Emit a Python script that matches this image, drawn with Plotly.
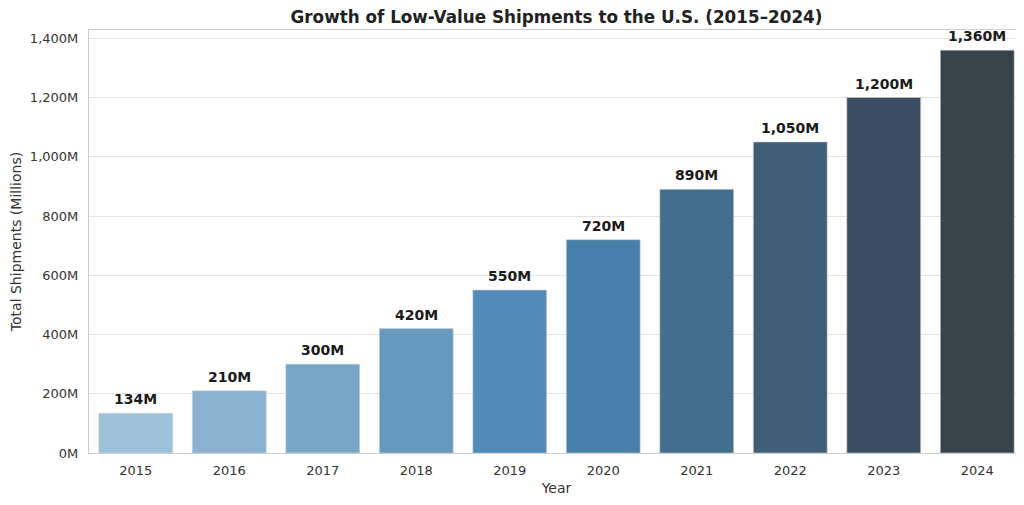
import plotly.graph_objects as go

years = ["2015", "2016", "2017", "2018", "2019", "2020", "2021", "2022", "2023", "2024"]
shipments = [134, 210, 300, 420, 550, 720, 890, 1050, 1200, 1360]
labels = ["134M", "210M", "300M", "420M", "550M", "720M", "890M", "1,050M", "1,200M", "1,360M"]
colors = ["#9dc1d9", "#8bb3cf", "#78a6c6", "#6599bf", "#518cb8", "#4680aa", "#436e8d", "#3f5e78",
          "#3b4d62", "#37434b"]
tick_vals = [0, 200, 400, 600, 800, 1000, 1200, 1400]
tick_text = ["0M", "200M", "400M", "600M", "800M", "1,000M", "1,200M", "1,400M"]

fig = go.Figure()
fig.add_trace(go.Bar(
    x=years, y=shipments,
    marker=dict(color=colors, line=dict(color="#d0d0d0", width=0.6)),
    width=0.79,
    hoverinfo="skip",
))

for i, (v, lab) in enumerate(zip(shipments, labels)):
    fig.add_annotation(
        x=i, y=v, xref="x", yref="y", text="<b>" + lab + "</b>", showarrow=False,
        xanchor="center", yanchor="bottom", yshift=4,
        font=dict(family="DejaVu Sans", size=14, color="#1a1a1a"),
    )

fig.update_layout(
    width=1024, height=505,
    paper_bgcolor="white", plot_bgcolor="white",
    margin=dict(l=81, r=8, t=22, b=60),
    font=dict(family="DejaVu Sans", color="#333333"),
    title=dict(text="<b>Growth of Low-Value Shipments to the U.S. (2015–2024)</b>",
               xref="paper", x=0.5, xanchor="center", y=0.993, yanchor="top",
               font=dict(size=16.8, color="#222222")),
    showlegend=False,
)
fig.update_xaxes(
    type="category", range=[-0.5, 9.5], automargin=False,
    showline=True, linecolor="#cccccc", linewidth=1.2, mirror=True,
    showgrid=False, ticks="outside", ticklen=5, tickcolor="rgba(0,0,0,0)",
    tickfont=dict(size=13, color="#333333"),
    title=dict(text="Year", font=dict(size=14, color="#333333"), standoff=6),
)
fig.update_yaxes(
    range=[0, 1428], tickvals=tick_vals, ticktext=tick_text, automargin=False,
    showline=True, linecolor="#cccccc", linewidth=1.2, mirror=True,
    showgrid=True, gridcolor="#e3e3e3", gridwidth=1, zeroline=False,
    ticks="outside", ticklen=7, tickcolor="rgba(0,0,0,0)",
    tickfont=dict(size=13, color="#333333"),
    title=dict(text="Total Shipments (Millions)", font=dict(size=14, color="#333333"), standoff=5),
)

fig.write_html("out.html")
